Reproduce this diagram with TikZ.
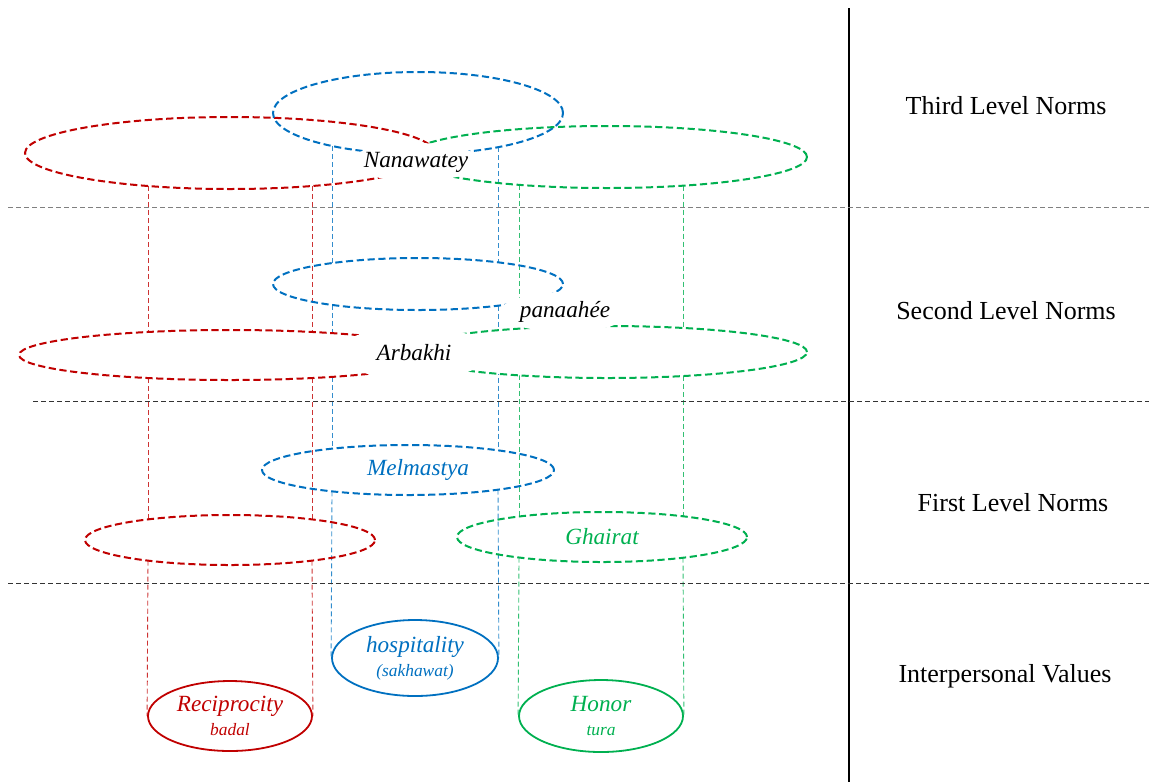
\documentclass[tikz,border=0pt]{standalone}
\usepackage{fontspec}
\setmainfont{Liberation Serif}
\usetikzlibrary{shapes.geometric,backgrounds,calc}

\definecolor{pashRed}{HTML}{C00000}
\definecolor{pashBlue}{HTML}{0070C0}
\definecolor{pashGreen}{HTML}{00B050}

\tikzset{
  normring/.style={ellipse,draw,line width=1pt,dash pattern=on 3.6pt off 1.8pt,inner sep=0pt},
  valring/.style={ellipse,draw,line width=0.9pt,inner sep=0pt,align=center,
    font=\fontsize{11.6}{11.8}\selectfont\itshape},
  normtext/.style={font=\fontsize{11.6}{13}\selectfont\itshape},
  leveltext/.style={font=\fontsize{13}{15}\selectfont},
  masktext/.style={ellipse,fill=white,inner xsep=-3pt,inner ysep=0pt,normtext},
  linkline/.style={draw,line width=0.45pt,dash pattern=on 2.5pt off 1.5pt},
  sepline/.style={line width=0.5pt,dash pattern=on 2.5pt off 1.5pt}
}
\newcommand{\subnote}[1]{{\fontsize{8.7}{10}\selectfont #1}}

\begin{document}
\begin{tikzpicture}[x=0.5pt,y=-0.5pt]

      \useasboundingbox (0,0) rectangle (1149,782);

      % Levels
      \draw[line width=1.4pt] (849,8) -- (849,782);
      \draw[sepline,gray] (8,207) -- (1149,207);
      \draw[sepline,black!80] (33,401) -- (1149,401);
      \draw[sepline,black!80] (8,583) -- (1149,583);

      \node[leveltext] (third) at (1006,106) {Third Level Norms};
      \node[leveltext] (second) at (1006,311) {Second Level Norms};
      \node[leveltext] (first) at (1013,503) {First Level Norms};
      \node[leveltext] (values) at (1005,676) {Interpersonal Values};

      % Norms
      \begin{scope}[every node/.style={normring}]
        \node[pashRed,minimum width=205pt,minimum height=36pt] (red3) at (230,153) {};
        \node[pashBlue,minimum width=145pt,minimum height=41pt] (blue3) at (418,113) {};
        \node[pashGreen,minimum width=200pt,minimum height=31pt] (green3) at (607,157) {};

        \node[pashBlue,minimum width=145pt,minimum height=26pt] (blue2) at (418,284) {};
        \node[pashRed,fill=white,minimum width=211pt,minimum height=25pt] (red2) at (230,355) {};
        \node[pashGreen,fill=white,minimum width=200pt,minimum height=26pt] (green2) at (607,352) {};

        \node[pashBlue,minimum width=146pt,minimum height=25pt,
          label={[normtext,pashBlue,xshift=5pt]center:Melmastya}] (blue1) at (408,470) {};
        \node[pashRed,minimum width=145pt,minimum height=25pt] (red1) at (230,540) {};
        \node[pashGreen,normtext,minimum width=145pt,minimum height=25pt] (green1) at (602,537) {Ghairat};
      \end{scope}

      % Values
      \begin{scope}[every node/.style={valring}]
        \node[pashRed,minimum width=82pt,minimum height=35pt] (recip) at (230,716) {Reciprocity\\\subnote{badal}};
        \node[pashBlue,minimum width=83pt,minimum height=38pt] (hosp) at (415,658) {hospitality\\\subnote{(sakhawat)}};
        \node[pashGreen,minimum width=82pt,minimum height=36pt] (honor) at (601,716) {Honor\\\subnote{tura}};
      \end{scope}

      % Names
      \node[masktext,minimum width=66pt,minimum height=19pt] (nanawatey) at (416,162) {Nanawatey};
      \node[masktext,minimum width=78pt,minimum height=26pt] (arbakhi) at (414,353) {Arbakhi};
      \node[masktext,minimum width=65pt,minimum height=20pt] (panaahee) at (565,312) {panaahée};

      % Links
      \begin{pgfonlayer}{background}
      \begin{scope}[every edge/.style={linkline,pashRed!80}]
        \path ($(red3)+(-82,33)$) edge ($(red2)+(-82,-23)$);
        \path ($(red3)+(82,33)$) edge ($(red2)+(82,-23)$);
        \path ($(red2)+(-82,23)$) edge ($(red1)+(-82,-20.6)$);
        \path ($(red2)+(82,23)$) edge ($(red1)+(82,-20.6)$);
        \path ($(red1)+(-82,20.6)$) edge (recip.west);
        \path ($(red1)+(82,20.6)$) edge (recip.east);
      \end{scope}

      \begin{scope}[every edge/.style={linkline,pashBlue!80}]
        \path ($(blue3)+(-86,33)$) edge ($(blue2)+(-86,-20.9)$);
        \path ($(blue3)+(80,34.2)$) edge ($(blue2)+(80,-21.7)$);
        \path ($(blue2)+(-86,20.9)$) edge ($(blue1)+(-76,-21.4)$);
        \path ($(blue2)+(80,21.7)$) edge ($(blue1)+(90,-19.7)$);
        \path ($(blue1)+(-76,21.4)$) edge (hosp.west);
        \path ($(blue1)+(90,19.7)$) edge (hosp.east);
      \end{scope}

      \begin{scope}[every edge/.style={linkline,pashGreen!80}]
        \path ($(green3)+(-88,27.8)$) edge ($(green2)+(-88,-23.3)$);
        \path ($(green3)+(76,28.7)$) edge ($(green2)+(76,-24)$);
        \path ($(green2)+(-88,23.3)$) edge ($(green1)+(-83,-20.5)$);
        \path ($(green2)+(76,24)$) edge ($(green1)+(81,-20.7)$);
        \path ($(green1)+(-83,20.5)$) edge (honor.west);
        \path ($(green1)+(81,20.7)$) edge (honor.east);
      \end{scope}
      \end{pgfonlayer}

    \end{tikzpicture}
\end{document}
